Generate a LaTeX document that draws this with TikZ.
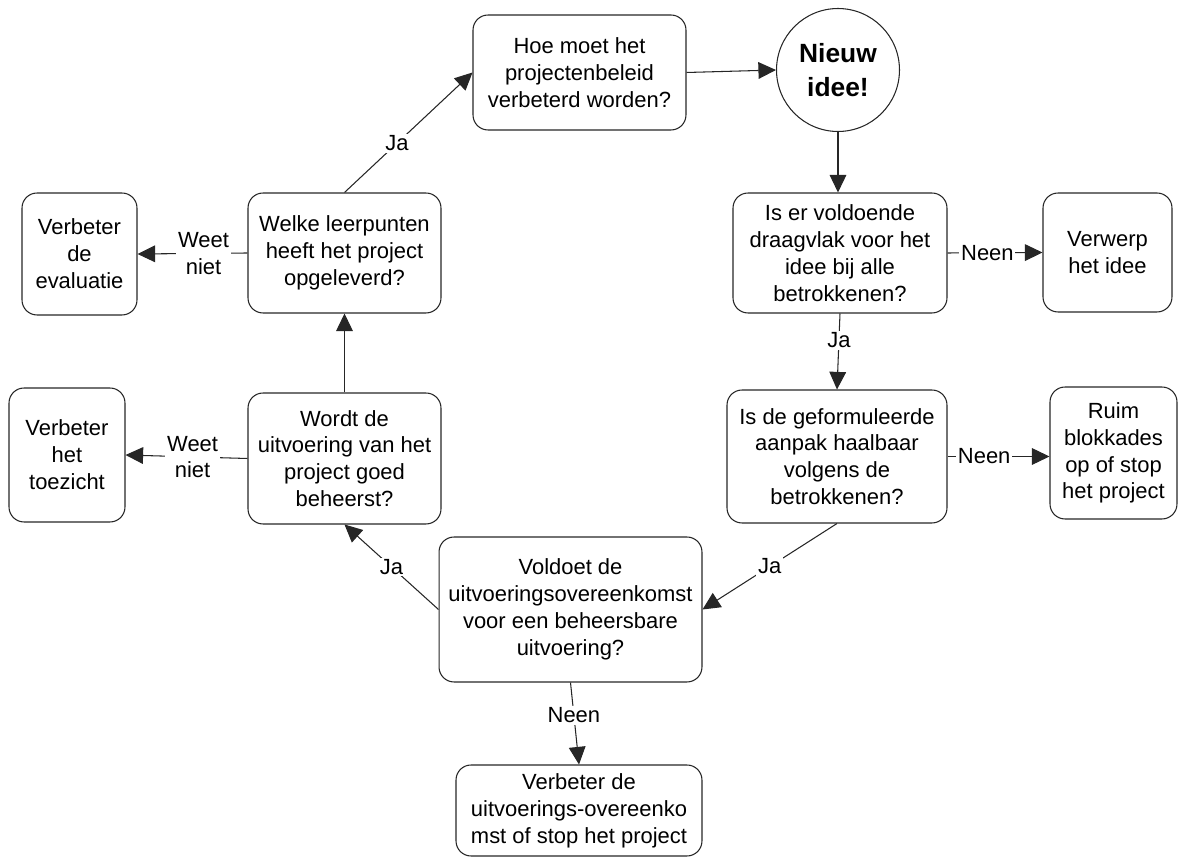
\documentclass[tikz,border=0pt]{standalone}
\usepackage{fontspec}
\setmainfont{Liberation Sans}
\usepackage{tikz}
\usetikzlibrary{arrows.meta}
\usetikzlibrary{positioning}

\begin{document}
\begin{tikzpicture}[x=0.02cm, y=-0.02cm,
    box/.style={draw=lijnkleur, line width=0.6pt, rounded corners=0.3cm, align=center,
        inner sep=2pt, font=\fontsize{12.5}{15.3}\selectfont},
    bubble/.style={draw=lijnkleur, line width=0.6pt, circle, align=center, inner sep=0pt,
        font=\fontsize{15}{19}\selectfont\bfseries},
    pijl/.style={draw=lijnkleur, line width=0.6pt, -{Triangle[length=10pt, width=9.5pt]}},
    lbl/.style={fill=white, inner sep=1pt, align=center, font=\fontsize{12.5}{15}\selectfont}]

    % Kleuren
    \definecolor{lijnkleur}{rgb}{0.15, 0.15, 0.15}

    % Rand van de tekening
    \useasboundingbox (0, 0) rectangle (1178, 857);

    % Bovenste rij
    \node[box, minimum width=4.26cm, minimum height=2.30cm] (beleid) at (579.5, 72.5)
        {Hoe moet het\\projectenbeleid\\verbeterd worden?};
    \node[bubble, minimum size=2.46cm] (idee) at (838, 70) {Nieuw\\idee!};

    % Rechter kolom
    \node[box, minimum width=4.28cm, minimum height=2.40cm] (draagvlak) at (840, 253)
        {Is er voldoende\\draagvlak voor het\\idee bij alle\\betrokkenen?};
    \node[box, minimum width=2.58cm, minimum height=2.38cm] (verwerp) at (1107.5, 252.5)
        {Verwerp\\het idee};
    \node[box, minimum width=4.40cm, minimum height=2.66cm] (aanpak) at (837, 456.5)
        {Is de geformuleerde\\aanpak haalbaar\\volgens de\\betrokkenen?};
    \node[box, minimum width=2.54cm, minimum height=2.64cm] (ruim) at (1113.5, 453)
        {Ruim\\blokkades\\op of stop\\het project};

    % Onderaan
    \node[box, minimum width=5.26cm, minimum height=2.90cm] (overeenkomst) at (570.5, 609.5)
        {Voldoet de\\uitvoeringsovereenkomst\\voor een beheersbare\\uitvoering?};
    \node[box, minimum width=4.92cm, minimum height=1.82cm] (herzien) at (579, 810.5)
        {Verbeter de\\uitvoerings-overeenko\\mst of stop het project};

    % Linker kolom
    \node[box, minimum width=3.86cm, minimum height=2.62cm] (beheerst) at (344.5, 458.5)
        {Wordt de\\uitvoering van het\\project goed\\beheerst?};
    \node[box, minimum width=2.32cm, minimum height=2.68cm] (toezicht) at (67, 455)
        {Verbeter\\het\\toezicht};
    \node[box, minimum width=3.86cm, minimum height=2.40cm] (leerpunten) at (344.5, 253)
        {Welke leerpunten\\heeft het project\\opgeleverd?};
    \node[box, minimum width=2.30cm, minimum height=2.44cm] (evaluatie) at (79.5, 254)
        {Verbeter\\de\\evaluatie};

    % Pijlen
    \draw[pijl] (beleid.east) -- (idee.west);
    \draw[pijl] (idee.south) -- (draagvlak.north -| idee.south);
    \draw[pijl] (draagvlak.east) -- (verwerp.west) node[lbl, pos=0.42] {Neen};
    \draw[pijl] (draagvlak.south) -- (aanpak.north) node[lbl, pos=0.35] {Ja};
    \draw[pijl] (aanpak.east) -- (aanpak.east -| ruim.west) node[lbl, pos=0.36] {Neen};
    \draw[pijl] (aanpak.south) -- (overeenkomst.east) node[lbl, midway] {Ja};
    \draw[pijl] (overeenkomst.south) -- (herzien.north) node[lbl, pos=0.4] {Neen};
    \draw[pijl] (overeenkomst.west) -- (beheerst.south) node[lbl, midway] {Ja};
    \draw[pijl] (beheerst.west) -- (toezicht.east) node[lbl, pos=0.45] {Weet\\niet};
    \draw[pijl] (beheerst.north) -- (leerpunten.south);
    \draw[pijl] (leerpunten.west) -- (evaluatie.east) node[lbl, pos=0.4] {Weet\\niet};
    \draw[pijl] (leerpunten.north) -- (beleid.west) node[lbl, pos=0.41] {Ja};

\end{tikzpicture}
\end{document}
